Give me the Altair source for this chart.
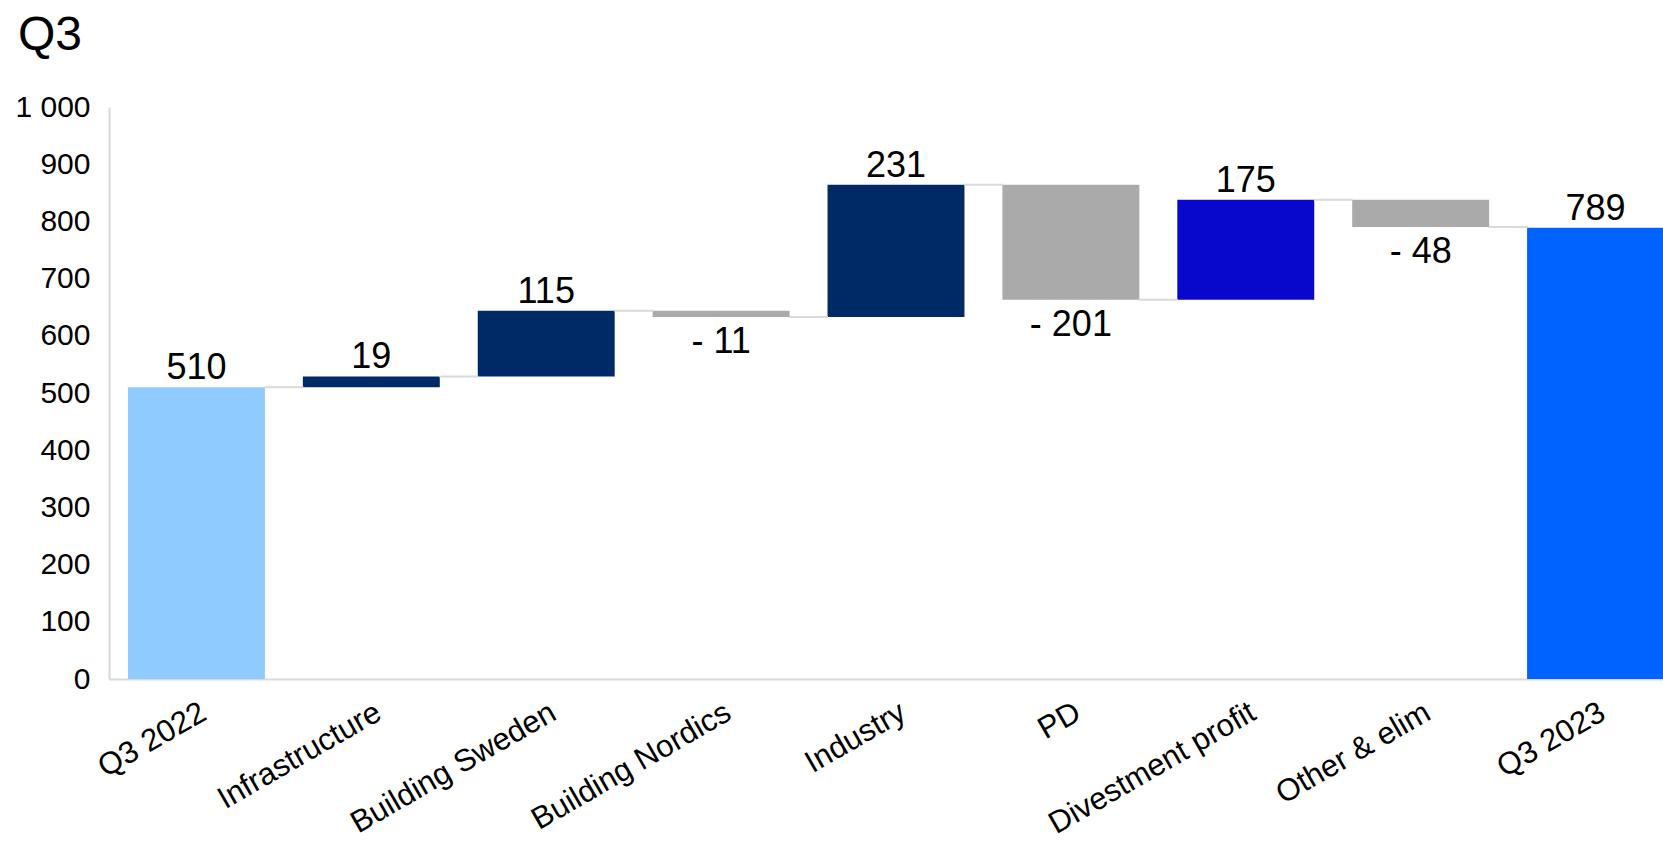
import altair as alt
import pandas as pd

categories = ["Q3 2022", "Infrastructure", "Building Sweden", "Building Nordics",
              "Industry", "PD", "Divestment profit", "Other & elim", "Q3 2023"]
values = [510, 19, 115, -11, 231, -201, 175, -48, 789]
is_total = [True, False, False, False, False, False, False, False, True]
bar_colors = ["#8FCBFF", "#002A66", "#002A66", "#AAAAAA", "#002A66",
              "#AAAAAA", "#0808CC", "#AAAAAA", "#0062FF"]
y_ticks = [0, 100, 200, 300, 400, 500, 600, 700, 800, 900, 1000]

FONT = "Liberation Sans"

rows = []
running = 0
for i, (c, v, t, col) in enumerate(zip(categories, values, is_total, bar_colors)):
    if t:
        start, end = 0, v
        running = v
    else:
        start, end = running, running + v
        running = end
    label = f"- {abs(v)}" if v < 0 else str(v)
    rows.append(dict(cat=c, start=start, end=end, top=max(start, end),
                     bottom=min(start, end), color=col, label=label,
                     neg=v < 0,
                     nxt=categories[i + 1] if i + 1 < len(categories) else None,
                     level=end))
df = pd.DataFrame(rows)
conn = df[df["nxt"].notna()].copy()

x_scale = alt.Scale(domain=categories, range=[0, 1574], paddingInner=0.217, paddingOuter=0.1085)
y_scale = alt.Scale(domain=[0, 1000], nice=False)

x_axis = alt.Axis(labelAngle=330, labelAlign="right", labelBaseline="top",
                  labelFontSize=31, labelFont=FONT, labelColor="black",
                  labelPadding=18, ticks=False, domainColor="#D9D9D9",
                  domainWidth=2, labelOverlap=False, labelLimit=0, grid=False)
y_axis = alt.Axis(values=y_ticks, labelFontSize=30, labelFont=FONT,
                  labelColor="black", ticks=False, grid=False,
                  domainColor="#D9D9D9", domainWidth=2, labelPadding=19,
                  labelExpr="replace(format(datum.value, ','), ',', ' ')")

bars = alt.Chart(df).mark_bar().encode(
    x=alt.X("cat:N", scale=x_scale, sort=categories, title=None, axis=x_axis),
    y=alt.Y("start:Q", scale=y_scale, title=None, axis=y_axis),
    y2="end:Q",
    color=alt.Color("color:N", scale=None),
)

connectors = alt.Chart(conn).mark_rule(color="#D9D9D9", strokeWidth=2,
                                       xOffset=68, x2Offset=-68).encode(
    x=alt.X("cat:N", scale=x_scale, sort=categories, title=None),
    x2="nxt:N",
    y=alt.Y("level:Q", scale=y_scale, title=None),
)

pos_labels = alt.Chart(df[~df["neg"]]).mark_text(
    fontSize=36, font=FONT, color="black", baseline="alphabetic", dy=-8).encode(
    x=alt.X("cat:N", scale=x_scale, sort=categories, title=None),
    y=alt.Y("top:Q", scale=y_scale, title=None),
    text="label:N",
)

neg_labels = alt.Chart(df[df["neg"]]).mark_text(
    fontSize=36, font=FONT, color="black", baseline="alphabetic", dy=36).encode(
    x=alt.X("cat:N", scale=x_scale, sort=categories, title=None),
    y=alt.Y("bottom:Q", scale=y_scale, title=None),
    text="label:N",
)

chart = alt.layer(bars, connectors, pos_labels, neg_labels).properties(
    width=1554, height=572,
    autosize=alt.AutoSizeParams(type="none"),
    padding={"left": 109, "top": 107, "right": 0, "bottom": 166},
    background="white",
    title=alt.TitleParams("Q3", anchor="start", frame="group", fontSize=48,
                          font=FONT, fontWeight="normal", color="black",
                          baseline="alphabetic", dx=-91, dy=50, offset=44),
).configure_view(stroke=None)

chart.save("out.html", embed_options={"renderer": "svg", "actions": False})
